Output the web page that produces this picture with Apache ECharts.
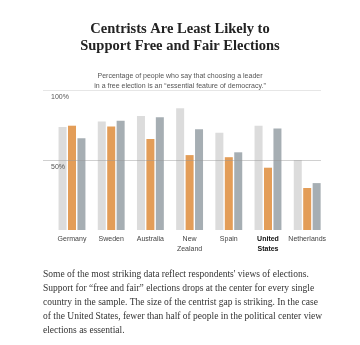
<!DOCTYPE html>
<html>
<head>
<meta charset="utf-8">
<script src="https://cdn.jsdelivr.net/npm/echarts@6/dist/echarts.min.js"></script>
<style>
  html, body { margin: 0; padding: 0; background: #fff; }
  #chart { width: 360px; height: 345px; }
</style>
</head>
<body>
<div id="chart"></div>
<script>
// Countries along the x axis
const countries = ['Germany', 'Sweden', 'Australia', 'New\nZealand', 'Spain', 'United\nStates', 'Netherlands'];
// Share (%) saying free elections are an essential feature of democracy
const leftValues   = [73.5, 77.5, 81.5, 87, 69.5, 74.5, 50];
const centerValues = [74.5, 74, 65, 53.5, 52, 44.5, 30];
const rightValues  = [65.5, 78, 80.5, 72, 55.5, 72.5, 33.5];
// Y axis ticks
const yTicks = [0, 50, 100];

const chart = echarts.init(document.getElementById('chart'));

const paragraph = [
  "Some of the most striking data reflect respondents' views of elections.",
  'Support for \u201cfree and fair\u201d elections drops at the center for every single',
  'country in the sample. The size of the centrist gap is striking. In the case',
  'of the United States, fewer than half of people in the political center view',
  'elections as essential.'
].join('\n');

const barStyle = (color) => ({ color: color });

chart.setOption({
  animation: false,
  title: [
    {
      text: 'Centrists Are Least Likely to\nSupport Free and Fair Elections',
      left: 'center',
      top: 16,
      textStyle: {
        fontFamily: 'Liberation Serif',
        fontWeight: 'bold',
        fontSize: 14.5,
        lineHeight: 17,
        color: '#222'
      }
    },
    {
      text: 'Percentage of people who say that choosing a leader\nin a free election is an \u201cessential feature of democracy.\u201d',
      left: 'center',
      top: 66,
      textStyle: {
        fontFamily: 'Liberation Sans',
        fontWeight: 'normal',
        fontSize: 7,
        lineHeight: 10,
        color: '#555'
      }
    }
  ],
  grid: [
    { left: 43, width: 278, top: 90, height: 140, containLabel: false },
    { left: 52.4, width: 274.4, top: 90, height: 140, containLabel: false }
  ],
  xAxis: [
    { gridIndex: 0, type: 'category', data: countries, show: false },
    {
      gridIndex: 1,
      type: 'category',
      data: countries,
      axisLine: { show: false },
      axisTick: { show: false },
      axisLabel: {
        margin: 4,
        fontFamily: 'Liberation Sans',
        fontSize: 7,
        lineHeight: 10,
        color: '#444',
        interval: 0,
        formatter: (v) => v.indexOf('United') === 0 ? '{b|' + v.replace('\n', '}\n{b|') + '}' : v,
        rich: {
          b: { fontFamily: 'Liberation Sans', fontWeight: 'bold', fontSize: 7, lineHeight: 10, color: '#111' }
        }
      }
    }
  ],
  yAxis: [
    {
      gridIndex: 0,
      type: 'value',
      min: yTicks[0],
      max: yTicks[yTicks.length - 1],
      interval: 50,
      z: 5,
      axisLine: { show: false },
      axisTick: { show: false },
      axisLabel: {
        inside: true,
        verticalAlign: 'top',
        padding: [4, 0, 0, 0],
        fontFamily: 'Liberation Sans',
        fontSize: 7,
        color: '#555',
        formatter: (v) => v === 0 ? '' : v + '%'
      },
      splitLine: {
        show: true,
        lineStyle: { color: ['rgba(0,0,0,0)', 'rgba(150,150,150,0.45)', '#e6e6e6'], width: 1 }
      }
    },
    {
      gridIndex: 1,
      type: 'value',
      min: yTicks[0],
      max: yTicks[yTicks.length - 1],
      show: false
    }
  ],
  graphic: [
    {
      type: 'text',
      left: 43,
      top: 267,
      style: {
        text: paragraph,
        font: '9.5px "Liberation Serif"',
        lineHeight: 14,
        fill: '#333'
      }
    }
  ],
  series: [
    {
      type: 'bar', xAxisIndex: 1, yAxisIndex: 1,
      data: leftValues, barWidth: 8, barGap: '18%',
      itemStyle: barStyle('#dcdcdc')
    },
    {
      type: 'bar', xAxisIndex: 1, yAxisIndex: 1,
      data: centerValues, barWidth: 8, barGap: '18%',
      itemStyle: barStyle('#e39d58')
    },
    {
      type: 'bar', xAxisIndex: 1, yAxisIndex: 1,
      data: rightValues, barWidth: 8, barGap: '18%',
      itemStyle: barStyle('#a6aeb3')
    }
  ]
});
</script>
</body>
</html>
